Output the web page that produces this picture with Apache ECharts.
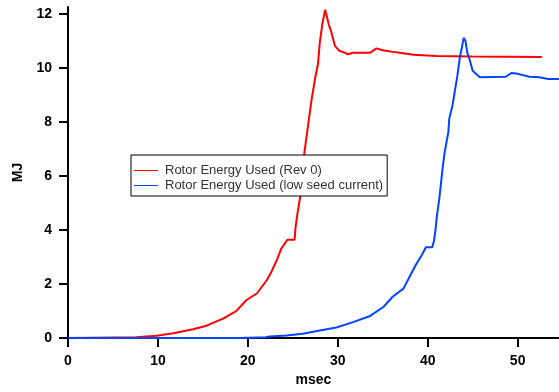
<!DOCTYPE html>
<html>
<head>
<meta charset="utf-8">
<script src="https://cdn.jsdelivr.net/npm/echarts@6/dist/echarts.min.js"></script>
<style>
  html, body { margin: 0; padding: 0; background: #fff; }
  #chart { width: 559px; height: 392px; }
</style>
</head>
<body>
<div id="chart"></div>
<script>
// msec / MJ
const timeRev0 = [0, 7.6, 9.85, 11.7, 13.9, 15.4, 17.3, 18.7, 19.85, 21.0, 22.1, 22.6, 23.2, 23.7, 24.4, 25.2, 25.3, 25.5, 25.8, 26.3, 26.7, 27.1, 27.5, 27.8, 28.0, 28.3, 28.6, 28.8, 29.0, 29.3, 29.7, 30.2, 30.8, 31.1, 31.7, 33.6, 34.3, 35.0, 36.1, 37.3, 38.4, 41.0, 45.0, 52.7]
const energyRev0 = [0, 0.03, 0.09, 0.18, 0.33, 0.46, 0.73, 1.0, 1.41, 1.65, 2.14, 2.44, 2.87, 3.3, 3.64, 3.64, 4.09, 4.58, 5.19, 6.9, 7.88, 8.85, 9.65, 10.14, 10.93, 11.66, 12.15, 12.1, 11.6, 11.3, 10.8, 10.62, 10.56, 10.5, 10.56, 10.56, 10.72, 10.65, 10.59, 10.54, 10.48, 10.44, 10.42, 10.4]

const timeLowSeed = [0, 19.1, 19.2, 22.0, 22.4, 24.3, 26.1, 28.0, 29.85, 31.7, 33.6, 35.1, 36.1, 37.3, 38.0, 38.7, 39.3, 39.8, 40.5, 40.7, 40.9, 41.0, 41.3, 41.5, 41.7, 41.9, 42.1, 42.3, 42.4, 42.75, 42.9, 43.3, 43.6, 43.8, 44.0, 44.2, 44.4, 44.7, 45.0, 45.4, 45.8, 48.7, 49.3, 49.85, 50.6, 51.3, 52.4, 53.4, 54.6]
const energyLowSeed = [0, 0, 0.03, 0.03, 0.06, 0.1, 0.16, 0.28, 0.39, 0.59, 0.82, 1.16, 1.53, 1.83, 2.28, 2.72, 3.05, 3.36, 3.36, 3.6, 4.09, 4.46, 5.19, 5.8, 6.41, 6.9, 7.27, 7.63, 8.12, 8.6, 8.9, 9.71, 10.44, 10.75, 11.11, 10.99, 10.56, 10.26, 9.89, 9.77, 9.65, 9.67, 9.81, 9.79, 9.73, 9.67, 9.65, 9.59, 9.59]

const xTicks = [0, 10, 20, 30, 40, 50]
const yTicks = [0, 2, 4, 6, 8, 10, 12]
const seriesNames = ['Rotor Energy Used (Rev 0)', 'Rotor Energy Used (low seed current)']

const pairs = (xs, ys) => xs.map((x, i) => [x, ys[i]])

const chart = echarts.init(document.getElementById('chart'))

const axisFont = { fontFamily: 'Liberation Sans', fontWeight: 'bold', fontSize: 14, color: '#000' }

chart.setOption({
  animation: false,
  grid: { left: 68, right: 0, top: 7, bottom: 50 },
  legend: {
    orient: 'vertical',
    left: 131,
    top: 155,
    padding: [9, 4, 4, 3],
    itemGap: 2,
    itemWidth: 24,
    itemHeight: 1,
    icon: 'rect',
    selectedMode: false,
    borderColor: '#000',
    borderWidth: 1,
    backgroundColor: '#fff',
    z: 10,
    textStyle: { fontFamily: 'Liberation Sans', fontSize: 13, color: '#333', lineHeight: 13, padding: [0, 0, 0, 2] },
    data: seriesNames
  },
  xAxis: {
    type: 'value',
    min: 0,
    max: 54.6,
    interval: 10,
    name: 'msec',
    nameLocation: 'middle',
    nameGap: 33,
    nameTextStyle: axisFont,
    splitLine: { show: false },
    axisLine: { lineStyle: { color: '#000', width: 2 } },
    axisTick: { length: 9, lineStyle: { width: 2, color: '#000' }, customValues: xTicks },
    axisLabel: Object.assign({ margin: 16, customValues: xTicks }, axisFont)
  },
  yAxis: {
    type: 'value',
    min: 0,
    max: 12.25,
    interval: 2,
    name: 'MJ',
    nameLocation: 'middle',
    nameGap: 42,
    nameTextStyle: axisFont,
    splitLine: { show: false },
    axisLine: { show: true, lineStyle: { color: '#000', width: 2 } },
    axisTick: { show: true, length: 9, lineStyle: { width: 2, color: '#000' }, customValues: yTicks },
    axisLabel: Object.assign({ margin: 16, customValues: yTicks }, axisFont)
  },
  series: [
    {
      name: seriesNames[0],
      type: 'line',
      showSymbol: false,
      color: '#ff0000',
      lineStyle: { width: 2, color: '#ff0000' },
      data: pairs(timeRev0, energyRev0)
    },
    {
      name: seriesNames[1],
      type: 'line',
      showSymbol: false,
      color: '#0044ff',
      lineStyle: { width: 2, color: '#0044ff' },
      data: pairs(timeLowSeed, energyLowSeed)
    }
  ]
})
</script>
</body>
</html>
